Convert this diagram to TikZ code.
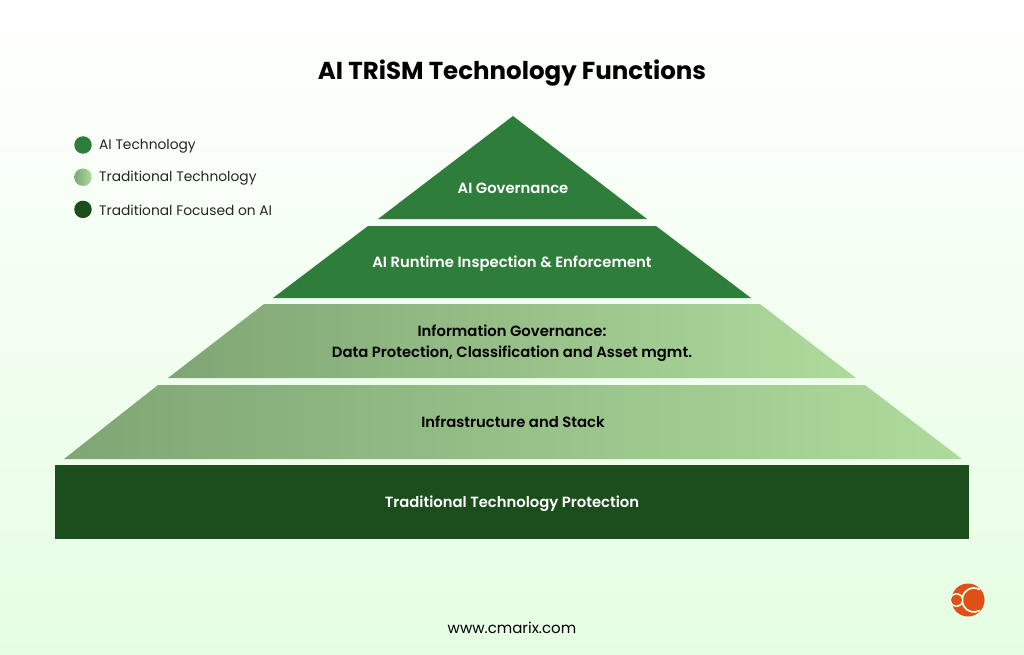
\documentclass[tikz,border=0pt]{standalone}
\usepackage{fontspec}
\setmainfont{Poppins}
\newfontfamily\semifont{Poppins SemiBold}
\usetikzlibrary{positioning}
\definecolor{bgBottom}{HTML}{E5FEE2}
\definecolor{aiGreen}{HTML}{2F7D3B}
\definecolor{tradLeft}{HTML}{7FA574}
\definecolor{tradRight}{HTML}{AEDB9C}
\definecolor{focusGreen}{HTML}{1B4D1D}
\definecolor{logoOrange}{HTML}{DE5016}
\begin{document}
\begin{tikzpicture}[
    x=1pt, y=-1pt,
    tierLabel/.style={font=\fontsize{14.8}{20.5}\selectfont\semifont, align=center, inner sep=0pt},
    legendDot/.style={circle, minimum size=17.5pt, inner sep=0pt},
    legendText/.style={font=\fontsize{13.8}{17}\selectfont, text=black!85, inner sep=0pt, right=7pt of #1, yshift=-1pt}
    ]
    \useasboundingbox (0,0) rectangle (1024,655);
    \shade[top color=white, bottom color=bgBottom] (0,0) rectangle (1024,655);

    % pyramid
    \fill[aiGreen] (513,116) -- (647,219) -- (378,219) -- cycle;
    \fill[aiGreen] (368,226) -- (656,226) -- (751,298) -- (273,298) -- cycle;
    \shade[left color=tradLeft, right color=tradRight] (264,304) -- (760,304) -- (856,378) -- (168,378) -- cycle;
    \shade[left color=tradLeft, right color=tradRight] (158,385) -- (865,385) -- (962,459) -- (64,459) -- cycle;
    \fill[focusGreen] (55,465) rectangle (969,539);

    \node (title) [font=\fontsize{24.5}{30}\selectfont\bfseries, inner sep=0pt] at (512,73) {AI TRiSM Technology Functions};

    \node (governance) [tierLabel, text=white] at (513,188) {AI Governance};
    \node (runtime) [tierLabel, text=white] at (512,263.5) {AI Runtime Inspection \& Enforcement};
    \node (information) [tierLabel, text=black] at (512,343) {Information Governance:\\Data Protection, Classification and Asset mgmt.};
    \node (infrastructure) [tierLabel, text=black] at (513,422) {Infrastructure and Stack};
    \node (protection) [tierLabel, text=white] at (512,504) {Traditional Technology Protection};

    % legend
    \node (dotAi) [legendDot, fill=aiGreen] at (83,145) {};
    \node (dotTrad) [legendDot, left color=tradLeft, right color=tradRight, below=14.3pt of dotAi] {};
    \node (dotFocus) [legendDot, fill=focusGreen, below=14.3pt of dotTrad] {};
    \node (textAi) [legendText=dotAi] {AI Technology};
    \node (textTrad) [legendText=dotTrad] {Traditional Technology};
    \node (textFocus) [legendText=dotFocus] {Traditional Focused on AI};

    \node (website) [font=\fontsize{15}{18}\selectfont, inner sep=0pt] at (512,628) {www.cmarix.com};

    % logo
    \fill[logoOrange] (968,600) circle (16.5);
    \draw[bgBottom, line width=1.8pt] (974,600) ++(60:12) arc[start angle=60, end angle=300, radius=12];
    \fill[bgBottom] (956.5,600) circle (7);
    \fill[logoOrange] (956.5,600) circle (5.5);
    \fill[logoOrange] (974,600) circle (10.3);
\end{tikzpicture}
\end{document}
